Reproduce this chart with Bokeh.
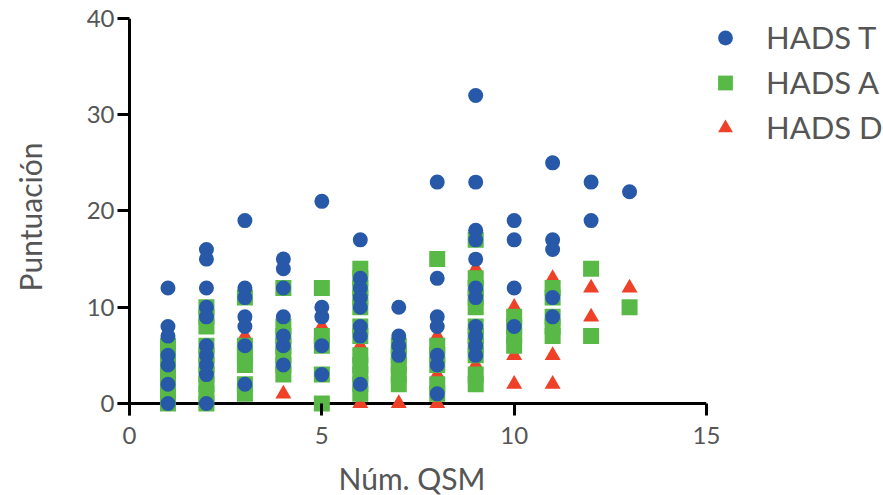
from bokeh.plotting import figure
from bokeh.models import Legend, LegendItem, Span, FixedTicker, Range1d
from bokeh.embed import file_html
from bokeh.resources import INLINE

# ---- data ----
qsm_t = [1]*7 + [2]*10 + [3]*7 + [4]*7 + [5]*5 + [6]*8 + [7]*4 + [8]*7 + [9]*11 + [10]*4 + [11]*5 + [12]*2 + [13]*1
hads_t = [12, 8, 7, 5, 4, 2, 0,
          16, 15, 12, 10, 9, 6, 5, 4, 3, 0,
          19, 12, 11, 9, 8, 6, 2,
          15, 14, 12, 9, 7, 6, 4,
          21, 10, 9, 6, 3,
          17, 13, 12, 11, 10, 8, 7, 2,
          10, 7, 6, 5,
          23, 13, 9, 8, 5, 4, 1,
          32, 23, 18, 17, 15, 12, 11, 8, 7, 6, 5,
          19, 17, 12, 8,
          25, 17, 16, 11, 9,
          23, 19,
          22]

qsm_a = [1]*7 + [2]*10 + [3]*6 + [4]*7 + [5]*5 + [6]*12 + [7]*5 + [8]*6 + [9]*11 + [10]*4 + [11]*5 + [12]*2 + [13]*1
hads_a = [6, 5, 4, 3, 2, 1, 0,
          10, 9, 8, 6, 5, 4, 3, 2, 1, 0,
          11, 6, 5, 4, 2, 1,
          12, 8, 7, 6, 5, 4, 3,
          12, 7, 6, 3, 0,
          14, 13, 12, 11, 10, 8, 7, 5, 4, 3, 2, 1,
          6, 5, 4, 3, 2,
          15, 6, 5, 4, 2, 1,
          17, 13, 12, 11, 10, 8, 7, 6, 5, 3, 2,
          9, 8, 7, 6,
          12, 11, 9, 8, 7,
          14, 7,
          10]

qsm_d = [1, 2, 3, 4, 5, 5, 6, 6, 7, 8, 8, 8, 9, 9, 10, 10, 10, 11, 11, 11, 12, 12, 13]
hads_d = [0, 0, 7, 1, 8, 6, 6, 0, 0, 7, 3, 0, 14, 4, 10, 5, 2, 13, 5, 2, 12, 9, 12]

series_labels = ["HADS T", "HADS A", "HADS D"]
x_ticks = [0, 5, 10, 15]
y_ticks = [0, 10, 20, 30, 40]

# ---- style ----
FONT = "Lato"
TXT = "#555555"
BLUE = "#2859A8"
GREEN = "#58B947"
RED = "#EE4128"

p = figure(frame_width=589, frame_height=397, output_backend="svg", toolbar_location=None,
           x_range=Range1d(-0.312, 15), y_range=Range1d(-1.247, 40),
           min_border_left=117, min_border_right=0, min_border_top=18,
           min_border_bottom=80)
p.outline_line_color = None
p.grid.visible = False

rd = p.scatter(qsm_d, hads_d, marker="triangle", size=16, fill_color=RED, line_color=None)
ra = p.scatter(qsm_a, hads_a, marker="square", size=16, fill_color=GREEN, line_color=None)
rt = p.scatter(qsm_t, hads_t, marker="circle", size=15, fill_color=BLUE, line_color=None)

for ax in (p.xaxis[0], p.yaxis[0]):
    ax.axis_line_color = None
    ax.major_tick_line_color = "black"
    ax.major_tick_line_width = 3
    ax.major_tick_in = 12
    ax.major_tick_out = 0
    ax.minor_tick_line_color = None
    ax.major_label_text_font = FONT
    ax.major_label_text_font_size = "24px"
    ax.major_label_text_color = TXT
    ax.axis_label_text_font = FONT
    ax.axis_label_text_font_size = "30px"
    ax.axis_label_text_color = TXT
    ax.axis_label_text_font_style = "normal"

p.xaxis.ticker = FixedTicker(ticks=x_ticks)
p.yaxis.ticker = FixedTicker(ticks=y_ticks)
p.xaxis.axis_label = "Núm. QSM"
p.yaxis.axis_label = "Puntuación"
p.xaxis.major_label_standoff = 11
p.yaxis.major_label_standoff = 3
p.xaxis.axis_label_standoff = 13
p.yaxis.axis_label_standoff = 36

p.add_layout(Span(location=0, dimension="width", line_color="black", line_width=3, level="underlay"))
p.add_layout(Span(location=0, dimension="height", line_color="black", line_width=3, level="underlay"))

legend = Legend(items=[LegendItem(label=series_labels[0], renderers=[rt]),
                       LegendItem(label=series_labels[1], renderers=[ra]),
                       LegendItem(label=series_labels[2], renderers=[rd])],
                location="top_left", margin=0, padding=0, spacing=7,
                glyph_width=38, glyph_height=37, label_standoff=22,
                label_text_font=FONT, label_text_font_size="31px", label_text_color=TXT,
                border_line_color=None, background_fill_alpha=0)
p.add_layout(legend, "right")

open("out.html", "w").write(file_html(p, INLINE))
